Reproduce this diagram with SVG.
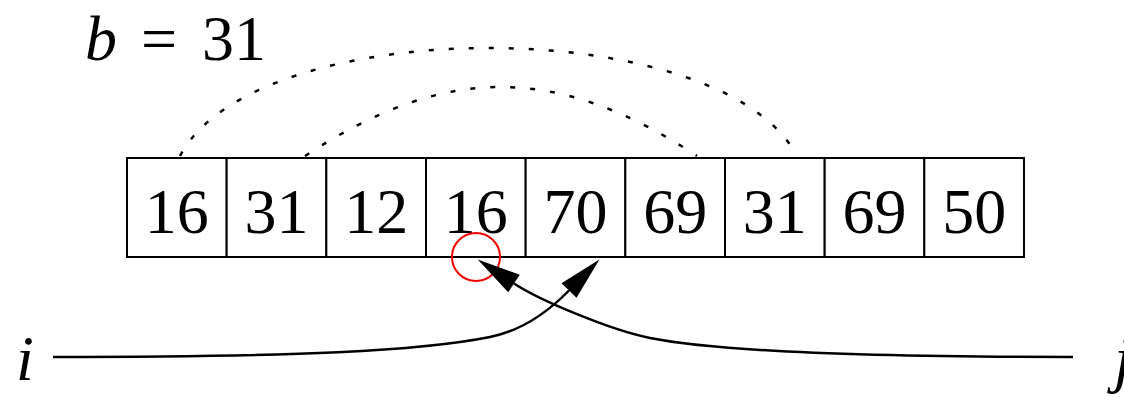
<svg xmlns="http://www.w3.org/2000/svg" width="1124" height="397" viewBox="0 0 1124 397">
<style>
.cell{fill:#fff;stroke:#000;stroke-width:2}
.num{font-family:"Liberation Serif",serif;font-size:64px;text-anchor:middle;fill:#000}
.lbl{font-family:"Liberation Serif",serif;font-size:64px;fill:#000}
.it{font-style:italic}
.dot{fill:none;stroke:#000;stroke-width:2.5;stroke-dasharray:5 15}
.arr{fill:none;stroke:#000;stroke-width:2.5}
</style>
<defs>
<marker id="ah" markerUnits="userSpaceOnUse" markerWidth="50" markerHeight="24" viewBox="0 -12 50 24" refX="0" refY="0" orient="auto" overflow="visible">
<path d="M0,-10.5 L43.5,0 L0,10.5 Z" fill="#000"/>
</marker>
</defs>
<rect width="1124" height="397" fill="#fff"/>
<g id="label-b"><text class="lbl" y="60"><tspan class="it" x="85">b</tspan><tspan x="141">=</tspan><tspan x="202">31</tspan></text></g>
<g id="array">
<g id="c0"><rect class="cell" x="127" y="158" width="99.67" height="99"/><text class="num" x="176.8" y="233">16</text></g>
<g id="c1"><rect class="cell" x="226.67" y="158" width="99.67" height="99"/><text class="num" x="276.5" y="233">31</text></g>
<g id="c2"><rect class="cell" x="326.33" y="158" width="99.67" height="99"/><text class="num" x="376.2" y="233">12</text></g>
<g id="c3"><rect class="cell" x="426" y="158" width="99.67" height="99"/><text class="num" x="475.8" y="233">16</text></g>
<g id="c4"><rect class="cell" x="525.67" y="158" width="99.67" height="99"/><text class="num" x="575.5" y="233">70</text></g>
<g id="c5"><rect class="cell" x="625.33" y="158" width="99.67" height="99"/><text class="num" x="675.2" y="233">69</text></g>
<g id="c6"><rect class="cell" x="725" y="158" width="99.67" height="99"/><text class="num" x="774.8" y="233">31</text></g>
<g id="c7"><rect class="cell" x="824.67" y="158" width="99.67" height="99"/><text class="num" x="874.5" y="233">69</text></g>
<g id="c8"><rect class="cell" x="924.33" y="158" width="99.67" height="99"/><text class="num" x="974.2" y="233">50</text></g>
</g>
<g id="marker-circle"><circle cx="476" cy="257" r="24" fill="none" stroke="#e00" stroke-width="2"/></g>
<g id="label-i"><text class="lbl it" x="16" y="380">i</text></g>
<g id="label-j"><text class="lbl it" x="1114" y="380">j</text></g>
<g id="connectors">
<path class="dot" d="M180,156 C255,12 722,12 797,156"/>
<path class="dot" d="M305,156 C445,64 557,64 697,156"/>
<path class="arr" d="M53,357 C300,357 420,351 490,337 C520,331 545,315 569,290.5" marker-end="url(#ah)"/>
<path class="arr" d="M1073,357 C850,357 710,350 650,338 C610,330 539,300 514,283.5" marker-end="url(#ah)"/>
</g>
</svg>
